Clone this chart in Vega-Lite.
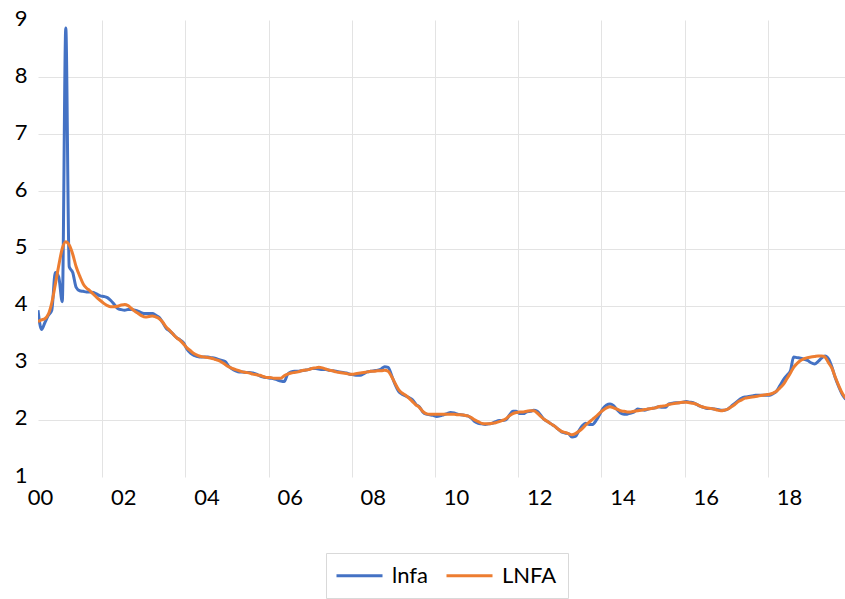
{
  "$schema": "https://vega.github.io/schema/vega-lite/v6.json",
  "width": 807,
  "height": 457,
  "autosize": {"type": "none"},
  "padding": {"left": 38, "top": 20, "right": 0, "bottom": 122},
  "config": {"view": {"stroke": null}, "font": "Lato"},
  "data": {
    "format": {"parse": {"date": "utc:'%Y-%m'"}},
    "values": [
      {"date":"2000-01","lnfa":3.92,"LNFA":3.72},{"date":"2000-02","lnfa":3.58,"LNFA":3.75},{"date":"2000-03","lnfa":3.7,"LNFA":3.77},{"date":"2000-04","lnfa":3.83,"LNFA":3.85},
      {"date":"2000-05","lnfa":3.92,"LNFA":4.05},{"date":"2000-06","lnfa":4.58,"LNFA":4.37},{"date":"2000-07","lnfa":4.5,"LNFA":4.7},{"date":"2000-08","lnfa":4.07,"LNFA":5.0},
      {"date":"2000-09","lnfa":8.86,"LNFA":5.12},{"date":"2000-10","lnfa":4.68,"LNFA":5.06},{"date":"2000-11","lnfa":4.58,"LNFA":4.9},{"date":"2000-12","lnfa":4.32,"LNFA":4.68},
      {"date":"2001-01","lnfa":4.26,"LNFA":4.52},{"date":"2001-02","lnfa":4.25,"LNFA":4.38},{"date":"2001-03","lnfa":4.24,"LNFA":4.31},{"date":"2001-04","lnfa":4.24,"LNFA":4.26},
      {"date":"2001-05","lnfa":4.23,"LNFA":4.2},{"date":"2001-06","lnfa":4.2,"LNFA":4.14},{"date":"2001-07","lnfa":4.17,"LNFA":4.09},{"date":"2001-08","lnfa":4.16,"LNFA":4.04},
      {"date":"2001-09","lnfa":4.14,"LNFA":4.0},{"date":"2001-10","lnfa":4.09,"LNFA":3.98},{"date":"2001-11","lnfa":4.02,"LNFA":3.98},{"date":"2001-12","lnfa":3.95,"LNFA":3.99},
      {"date":"2002-01","lnfa":3.93,"LNFA":4.01},{"date":"2002-02","lnfa":3.92,"LNFA":4.02},{"date":"2002-03","lnfa":3.93,"LNFA":4.0},{"date":"2002-04","lnfa":3.93,"LNFA":3.95},
      {"date":"2002-05","lnfa":3.92,"LNFA":3.9},{"date":"2002-06","lnfa":3.9,"LNFA":3.86},{"date":"2002-07","lnfa":3.87,"LNFA":3.82},{"date":"2002-08","lnfa":3.86,"LNFA":3.8},
      {"date":"2002-09","lnfa":3.86,"LNFA":3.81},{"date":"2002-10","lnfa":3.86,"LNFA":3.82},{"date":"2002-11","lnfa":3.83,"LNFA":3.8},{"date":"2002-12","lnfa":3.79,"LNFA":3.77},
      {"date":"2003-01","lnfa":3.7,"LNFA":3.71},{"date":"2003-02","lnfa":3.6,"LNFA":3.62},{"date":"2003-03","lnfa":3.56,"LNFA":3.57},{"date":"2003-04","lnfa":3.5,"LNFA":3.5},
      {"date":"2003-05","lnfa":3.44,"LNFA":3.44},{"date":"2003-06","lnfa":3.4,"LNFA":3.39},{"date":"2003-07","lnfa":3.35,"LNFA":3.33},{"date":"2003-08","lnfa":3.24,"LNFA":3.26},
      {"date":"2003-09","lnfa":3.17,"LNFA":3.21},{"date":"2003-10","lnfa":3.13,"LNFA":3.16},{"date":"2003-11","lnfa":3.11,"LNFA":3.13},{"date":"2003-12","lnfa":3.1,"LNFA":3.11},
      {"date":"2004-01","lnfa":3.1,"LNFA":3.1},{"date":"2004-02","lnfa":3.1,"LNFA":3.09},{"date":"2004-03","lnfa":3.09,"LNFA":3.08},{"date":"2004-04","lnfa":3.08,"LNFA":3.06},
      {"date":"2004-05","lnfa":3.06,"LNFA":3.04},{"date":"2004-06","lnfa":3.04,"LNFA":3.01},{"date":"2004-07","lnfa":3.02,"LNFA":2.97},{"date":"2004-08","lnfa":2.94,"LNFA":2.93},
      {"date":"2004-09","lnfa":2.89,"LNFA":2.9},{"date":"2004-10","lnfa":2.86,"LNFA":2.88},{"date":"2004-11","lnfa":2.84,"LNFA":2.86},{"date":"2004-12","lnfa":2.84,"LNFA":2.84},
      {"date":"2005-01","lnfa":2.83,"LNFA":2.83},{"date":"2005-02","lnfa":2.83,"LNFA":2.82},{"date":"2005-03","lnfa":2.82,"LNFA":2.8},{"date":"2005-04","lnfa":2.8,"LNFA":2.79},
      {"date":"2005-05","lnfa":2.77,"LNFA":2.78},{"date":"2005-06","lnfa":2.75,"LNFA":2.76},{"date":"2005-07","lnfa":2.74,"LNFA":2.74},{"date":"2005-08","lnfa":2.73,"LNFA":2.74},
      {"date":"2005-09","lnfa":2.72,"LNFA":2.73},{"date":"2005-10","lnfa":2.7,"LNFA":2.73},{"date":"2005-11","lnfa":2.68,"LNFA":2.73},{"date":"2005-12","lnfa":2.67,"LNFA":2.77},
      {"date":"2006-01","lnfa":2.8,"LNFA":2.8},{"date":"2006-02","lnfa":2.84,"LNFA":2.82},{"date":"2006-03","lnfa":2.85,"LNFA":2.83},{"date":"2006-04","lnfa":2.85,"LNFA":2.84},
      {"date":"2006-05","lnfa":2.86,"LNFA":2.86},{"date":"2006-06","lnfa":2.87,"LNFA":2.87},{"date":"2006-07","lnfa":2.88,"LNFA":2.88},{"date":"2006-08","lnfa":2.9,"LNFA":2.9},
      {"date":"2006-09","lnfa":2.9,"LNFA":2.91},{"date":"2006-10","lnfa":2.89,"LNFA":2.92},{"date":"2006-11","lnfa":2.88,"LNFA":2.91},{"date":"2006-12","lnfa":2.88,"LNFA":2.89},
      {"date":"2007-01","lnfa":2.87,"LNFA":2.87},{"date":"2007-02","lnfa":2.86,"LNFA":2.86},{"date":"2007-03","lnfa":2.85,"LNFA":2.84},{"date":"2007-04","lnfa":2.84,"LNFA":2.83},
      {"date":"2007-05","lnfa":2.83,"LNFA":2.82},{"date":"2007-06","lnfa":2.82,"LNFA":2.81},{"date":"2007-07","lnfa":2.8,"LNFA":2.8},{"date":"2007-08","lnfa":2.79,"LNFA":2.8},
      {"date":"2007-09","lnfa":2.78,"LNFA":2.81},{"date":"2007-10","lnfa":2.78,"LNFA":2.82},{"date":"2007-11","lnfa":2.81,"LNFA":2.83},{"date":"2007-12","lnfa":2.84,"LNFA":2.84},
      {"date":"2008-01","lnfa":2.85,"LNFA":2.85},{"date":"2008-02","lnfa":2.86,"LNFA":2.85},{"date":"2008-03","lnfa":2.87,"LNFA":2.86},{"date":"2008-04","lnfa":2.89,"LNFA":2.86},
      {"date":"2008-05","lnfa":2.93,"LNFA":2.87},{"date":"2008-06","lnfa":2.92,"LNFA":2.85},{"date":"2008-07","lnfa":2.78,"LNFA":2.76},{"date":"2008-08","lnfa":2.62,"LNFA":2.64},
      {"date":"2008-09","lnfa":2.5,"LNFA":2.53},{"date":"2008-10","lnfa":2.45,"LNFA":2.47},{"date":"2008-11","lnfa":2.42,"LNFA":2.43},{"date":"2008-12","lnfa":2.39,"LNFA":2.38},
      {"date":"2009-01","lnfa":2.35,"LNFA":2.32},{"date":"2009-02","lnfa":2.27,"LNFA":2.26},{"date":"2009-03","lnfa":2.23,"LNFA":2.22},{"date":"2009-04","lnfa":2.14,"LNFA":2.15},
      {"date":"2009-05","lnfa":2.1,"LNFA":2.11},{"date":"2009-06","lnfa":2.09,"LNFA":2.1},{"date":"2009-07","lnfa":2.08,"LNFA":2.1},{"date":"2009-08","lnfa":2.06,"LNFA":2.1},
      {"date":"2009-09","lnfa":2.07,"LNFA":2.1},{"date":"2009-10","lnfa":2.09,"LNFA":2.1},{"date":"2009-11","lnfa":2.11,"LNFA":2.1},{"date":"2009-12","lnfa":2.13,"LNFA":2.1},
      {"date":"2010-01","lnfa":2.12,"LNFA":2.1},{"date":"2010-02","lnfa":2.1,"LNFA":2.09},{"date":"2010-03","lnfa":2.09,"LNFA":2.09},{"date":"2010-04","lnfa":2.08,"LNFA":2.08},
      {"date":"2010-05","lnfa":2.07,"LNFA":2.07},{"date":"2010-06","lnfa":2.03,"LNFA":2.04},{"date":"2010-07","lnfa":1.97,"LNFA":2.0},{"date":"2010-08","lnfa":1.94,"LNFA":1.97},
      {"date":"2010-09","lnfa":1.93,"LNFA":1.94},{"date":"2010-10","lnfa":1.92,"LNFA":1.93},{"date":"2010-11","lnfa":1.93,"LNFA":1.93},{"date":"2010-12","lnfa":1.94,"LNFA":1.94},
      {"date":"2011-01","lnfa":1.97,"LNFA":1.95},{"date":"2011-02","lnfa":1.99,"LNFA":1.97},{"date":"2011-03","lnfa":1.99,"LNFA":1.99},{"date":"2011-04","lnfa":2.0,"LNFA":2.02},
      {"date":"2011-05","lnfa":2.08,"LNFA":2.07},{"date":"2011-06","lnfa":2.15,"LNFA":2.11},{"date":"2011-07","lnfa":2.15,"LNFA":2.13},{"date":"2011-08","lnfa":2.11,"LNFA":2.14},
      {"date":"2011-09","lnfa":2.11,"LNFA":2.14},{"date":"2011-10","lnfa":2.14,"LNFA":2.15},{"date":"2011-11","lnfa":2.15,"LNFA":2.16},{"date":"2011-12","lnfa":2.17,"LNFA":2.16},
      {"date":"2012-01","lnfa":2.15,"LNFA":2.12},{"date":"2012-02","lnfa":2.08,"LNFA":2.06},{"date":"2012-03","lnfa":2.01,"LNFA":2.01},{"date":"2012-04","lnfa":1.97,"LNFA":1.97},
      {"date":"2012-05","lnfa":1.93,"LNFA":1.93},{"date":"2012-06","lnfa":1.89,"LNFA":1.89},{"date":"2012-07","lnfa":1.84,"LNFA":1.84},{"date":"2012-08","lnfa":1.79,"LNFA":1.8},
      {"date":"2012-09","lnfa":1.77,"LNFA":1.78},{"date":"2012-10","lnfa":1.76,"LNFA":1.76},{"date":"2012-11","lnfa":1.7,"LNFA":1.74},{"date":"2012-12","lnfa":1.71,"LNFA":1.76},
      {"date":"2013-01","lnfa":1.81,"LNFA":1.8},{"date":"2013-02","lnfa":1.9,"LNFA":1.85},{"date":"2013-03","lnfa":1.94,"LNFA":1.91},{"date":"2013-04","lnfa":1.92,"LNFA":1.96},
      {"date":"2013-05","lnfa":1.92,"LNFA":2.01},{"date":"2013-06","lnfa":1.99,"LNFA":2.06},{"date":"2013-07","lnfa":2.09,"LNFA":2.12},{"date":"2013-08","lnfa":2.2,"LNFA":2.17},
      {"date":"2013-09","lnfa":2.26,"LNFA":2.21},{"date":"2013-10","lnfa":2.28,"LNFA":2.23},{"date":"2013-11","lnfa":2.25,"LNFA":2.21},{"date":"2013-12","lnfa":2.18,"LNFA":2.19},
      {"date":"2014-01","lnfa":2.12,"LNFA":2.16},{"date":"2014-02","lnfa":2.1,"LNFA":2.15},{"date":"2014-03","lnfa":2.1,"LNFA":2.14},{"date":"2014-04","lnfa":2.12,"LNFA":2.14},
      {"date":"2014-05","lnfa":2.14,"LNFA":2.15},{"date":"2014-06","lnfa":2.19,"LNFA":2.16},{"date":"2014-07","lnfa":2.18,"LNFA":2.17},{"date":"2014-08","lnfa":2.17,"LNFA":2.18},
      {"date":"2014-09","lnfa":2.19,"LNFA":2.19},{"date":"2014-10","lnfa":2.2,"LNFA":2.2},{"date":"2014-11","lnfa":2.21,"LNFA":2.21},{"date":"2014-12","lnfa":2.23,"LNFA":2.23},
      {"date":"2015-01","lnfa":2.22,"LNFA":2.24},{"date":"2015-02","lnfa":2.22,"LNFA":2.25},{"date":"2015-03","lnfa":2.28,"LNFA":2.27},{"date":"2015-04","lnfa":2.29,"LNFA":2.28},
      {"date":"2015-05","lnfa":2.3,"LNFA":2.29},{"date":"2015-06","lnfa":2.3,"LNFA":2.3},{"date":"2015-07","lnfa":2.31,"LNFA":2.31},{"date":"2015-08","lnfa":2.32,"LNFA":2.31},
      {"date":"2015-09","lnfa":2.31,"LNFA":2.3},{"date":"2015-10","lnfa":2.3,"LNFA":2.29},{"date":"2015-11","lnfa":2.27,"LNFA":2.27},{"date":"2015-12","lnfa":2.24,"LNFA":2.24},
      {"date":"2016-01","lnfa":2.22,"LNFA":2.22},{"date":"2016-02","lnfa":2.2,"LNFA":2.21},{"date":"2016-03","lnfa":2.2,"LNFA":2.2},{"date":"2016-04","lnfa":2.19,"LNFA":2.19},
      {"date":"2016-05","lnfa":2.18,"LNFA":2.17},{"date":"2016-06","lnfa":2.17,"LNFA":2.16},{"date":"2016-07","lnfa":2.17,"LNFA":2.17},{"date":"2016-08","lnfa":2.19,"LNFA":2.19},
      {"date":"2016-09","lnfa":2.24,"LNFA":2.23},{"date":"2016-10","lnfa":2.29,"LNFA":2.27},{"date":"2016-11","lnfa":2.34,"LNFA":2.32},{"date":"2016-12","lnfa":2.38,"LNFA":2.35},
      {"date":"2017-01","lnfa":2.4,"LNFA":2.38},{"date":"2017-02","lnfa":2.41,"LNFA":2.39},{"date":"2017-03","lnfa":2.42,"LNFA":2.4},{"date":"2017-04","lnfa":2.43,"LNFA":2.41},
      {"date":"2017-05","lnfa":2.43,"LNFA":2.42},{"date":"2017-06","lnfa":2.43,"LNFA":2.43},{"date":"2017-07","lnfa":2.43,"LNFA":2.44},{"date":"2017-08","lnfa":2.43,"LNFA":2.45},
      {"date":"2017-09","lnfa":2.46,"LNFA":2.47},{"date":"2017-10","lnfa":2.5,"LNFA":2.5},{"date":"2017-11","lnfa":2.6,"LNFA":2.56},{"date":"2017-12","lnfa":2.7,"LNFA":2.62},
      {"date":"2018-01","lnfa":2.78,"LNFA":2.72},{"date":"2018-02","lnfa":2.86,"LNFA":2.82},{"date":"2018-03","lnfa":3.1,"LNFA":2.92},{"date":"2018-04","lnfa":3.09,"LNFA":2.99},
      {"date":"2018-05","lnfa":3.08,"LNFA":3.04},{"date":"2018-06","lnfa":3.06,"LNFA":3.07},{"date":"2018-07","lnfa":3.04,"LNFA":3.09},{"date":"2018-08","lnfa":3.0,"LNFA":3.1},
      {"date":"2018-09","lnfa":2.98,"LNFA":3.11},{"date":"2018-10","lnfa":3.02,"LNFA":3.12},{"date":"2018-11","lnfa":3.08,"LNFA":3.12},{"date":"2018-12","lnfa":3.12,"LNFA":3.1},
      {"date":"2019-01","lnfa":3.07,"LNFA":3.0},{"date":"2019-02","lnfa":2.92,"LNFA":2.9},{"date":"2019-03","lnfa":2.74,"LNFA":2.75},{"date":"2019-04","lnfa":2.58,"LNFA":2.6},
      {"date":"2019-05","lnfa":2.45,"LNFA":2.47},{"date":"2019-06","lnfa":2.36,"LNFA":2.38}
    ]
  },
  "transform": [{"fold": ["lnfa", "LNFA"], "as": ["series", "value"]}],
  "mark": {"type": "line", "strokeWidth": 3, "interpolate": "monotone", "clip": true},
  "encoding": {
    "x": {
      "field": "date",
      "type": "temporal",
      "scale": {"type": "utc", "domain": [{"year": 2000, "month": 1, "date": 1, "utc": true}, {"year": 2019, "month": 5, "date": 26, "utc": true}]},
      "axis": {
        "title": null,
        "values": [
          {"year": 2000, "month": 1, "date": 1, "utc": true}, {"year": 2002, "month": 1, "date": 1, "utc": true},
          {"year": 2004, "month": 1, "date": 1, "utc": true}, {"year": 2006, "month": 1, "date": 1, "utc": true},
          {"year": 2008, "month": 1, "date": 1, "utc": true}, {"year": 2010, "month": 1, "date": 1, "utc": true},
          {"year": 2012, "month": 1, "date": 1, "utc": true}, {"year": 2014, "month": 1, "date": 1, "utc": true},
          {"year": 2016, "month": 1, "date": 1, "utc": true}, {"year": 2018, "month": 1, "date": 1, "utc": true}
        ],
        "labelExpr": "utcFormat(datum.value, '%y')",
        "grid": true,
        "gridColor": {"condition": {"test": "datum.value < utc(2001,0,1)", "value": "transparent"}, "value": "#e3e3e3"},
        "gridWidth": 1,
        "domain": false,
        "ticks": false,
        "tickOffset": -19,
        "labelOffset": 21,
        "labelFlush": false,
        "labelOverlap": false,
        "labelBound": false,
        "labelFont": "Lato",
        "labelFontSize": 22,
        "labelColor": "#000000",
        "labelPadding": 10
      }
    },
    "y": {
      "field": "value",
      "type": "quantitative",
      "scale": {"domain": [1, 9], "nice": false, "zero": false},
      "axis": {
        "title": null,
        "values": [1, 2, 3, 4, 5, 6, 7, 8, 9],
        "grid": true,
        "gridColor": {"condition": {"test": "datum.value < 1.5 || datum.value > 8.5", "value": "transparent"}, "value": "#e3e3e3"},
        "gridWidth": 1,
        "domain": false,
        "ticks": false,
        "labelFlush": false,
        "labelOverlap": false,
        "labelFont": "Lato",
        "labelFontSize": 22,
        "labelColor": "#000000",
        "labelPadding": 11,
        "labelOffset": -2
      }
    },
    "color": {
      "field": "series",
      "type": "nominal",
      "sort": ["lnfa", "LNFA"],
      "scale": {"domain": ["lnfa", "LNFA"], "range": ["#4472C4", "#ED7D31"]},
      "legend": {
        "title": null,
        "orient": "none",
        "legendX": 288,
        "legendY": 533,
        "direction": "horizontal",
        "symbolType": "M-2.3,0H2.3",
        "symbolSize": 400,
        "symbolStrokeWidth": 3,
        "symbolOffset": 11,
        "labelOffset": 21,
        "labelFont": "Lato",
        "labelFontSize": 22,
        "labelColor": "#000000",
        "padding": 11,
        "strokeColor": "#d9d9d9",
        "columnPadding": 12
      }
    }
  }
}
